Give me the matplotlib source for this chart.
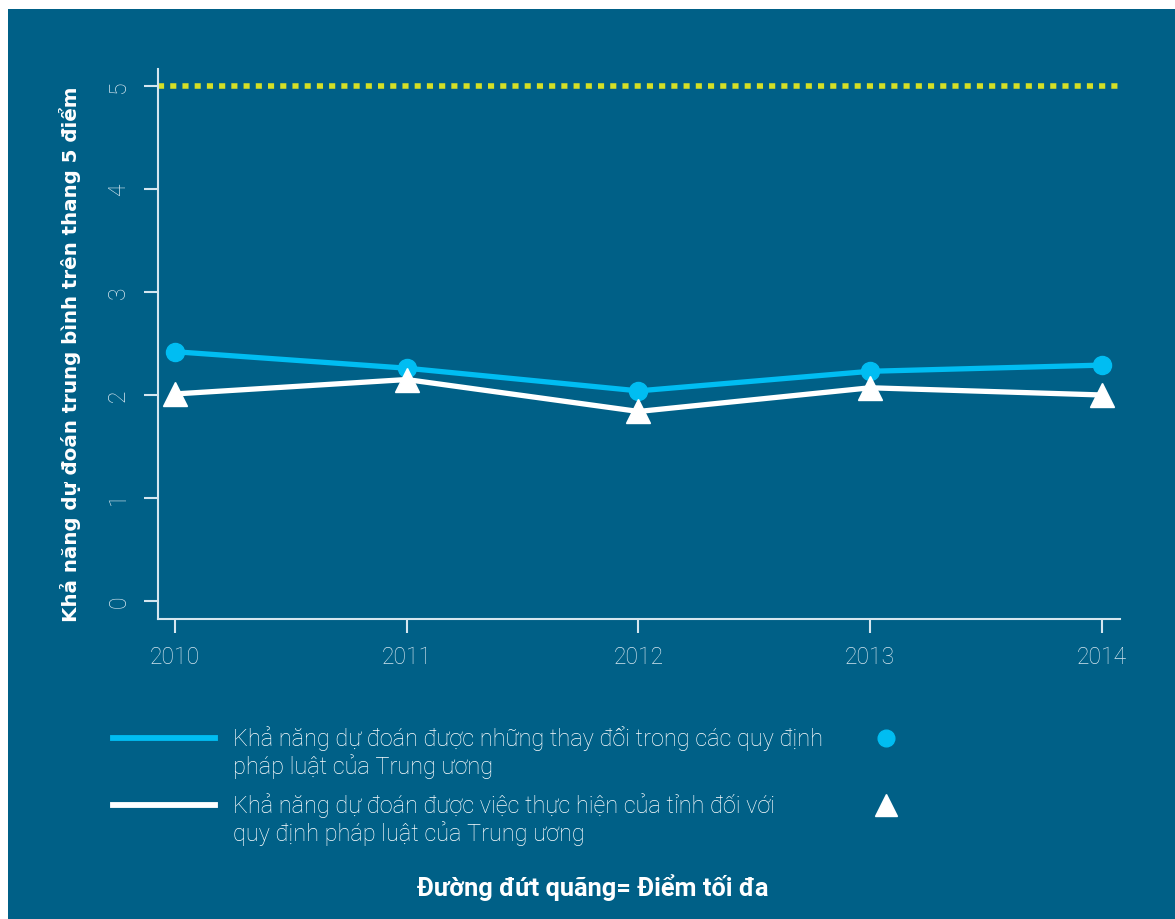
import matplotlib
matplotlib.use('Agg')
import matplotlib.pyplot as plt
from matplotlib.patches import Rectangle
from matplotlib.lines import Line2D

years = [2010, 2011, 2012, 2013, 2014]
central_changes = [2.42, 2.26, 2.04, 2.23, 2.29]
provincial_impl = [2.01, 2.15, 1.84, 2.07, 2.00]
max_score = 5
y_ticks = [0, 1, 2, 3, 4, 5]

label_central = "Khả năng dự đoán được những thay đổi trong các quy định\npháp luật của Trung ương"
label_prov = "Khả năng dự đoán được việc thực hiện của tỉnh đối với\nquy định pháp luật của Trung ương"
ylabel = "Khả năng dự đoán trung bình trên thang 5 điểm"
note = "Đường đứt quãng= Điểm tối đa"

bg = '#006087'
blue = '#00bdf2'
yellow = '#d4df26'
tick_col = '#d5e6ef'
light = ['Roboto', 'DejaVu Sans']

fig = plt.figure(figsize=(11.75, 9.2), dpi=100, facecolor='white')
fig.patches.append(Rectangle((8 / 1175, 0), 1 - 8 / 1175, 1 - 10 / 920,
                             transform=fig.transFigure, facecolor=bg,
                             edgecolor='none', zorder=-5))

ax = fig.add_axes([158 / 1175, 1 - 620 / 920, (1120 - 158) / 1175, (620 - 70) / 920])
ax.set_zorder(2)
ax.patch.set_alpha(0)

ax.plot([2009.927, 2014.078], [max_score, max_score], color=yellow, lw=4,
        linestyle=(0, (1.1, 1.1)), dash_capstyle='butt')
ax.plot(years, central_changes, color=blue, lw=3.8, marker='o', ms=13, zorder=3)
ax.plot(years, provincial_impl, color='white', lw=3.8, marker='^', ms=17, zorder=3)

ax.set_xlim(2009.927, 2014.078)
ax.set_ylim(-0.175, 5.165)
ax.set_xticks(years)
ax.set_yticks(y_ticks)
ax.set_xticklabels([str(y) for y in years], family=light, fontweight='light',
                   fontsize=16.5, color=tick_col)
ax.set_yticklabels([str(t) for t in y_ticks], family=light, fontweight='light',
                   fontsize=16.5, color=tick_col, rotation=90, va='center')
ax.tick_params(axis='both', colors=tick_col, length=10, width=1.5, direction='out')
ax.tick_params(axis='x', pad=9)
ax.tick_params(axis='y', pad=10)
for s in ['top', 'right']:
    ax.spines[s].set_visible(False)
for s in ['left', 'bottom']:
    ax.spines[s].set_color(tick_col)
    ax.spines[s].set_linewidth(1.5)

fig.text(70 / 1175, 1 - 354 / 920, ylabel, rotation=90, color='white',
         fontsize=14.3, fontweight='bold', ha='center', va='center', family='DejaVu Sans')

# legend drawn by hand
def fx(px):
    return px / 1175

def fy(py):
    return 1 - py / 920

fig.lines.append(Line2D([fx(113), fx(215)], [fy(739), fy(739)], color=blue, lw=4.2,
                        transform=fig.transFigure))
fig.lines.append(Line2D([fx(113), fx(215)], [fy(806), fy(806)], color='white', lw=4.2,
                        transform=fig.transFigure))
fig.lines.append(Line2D([fx(886)], [fy(739)], color=blue, marker='o', ms=12, ls='none',
                        transform=fig.transFigure))
fig.lines.append(Line2D([fx(886)], [fy(806)], color='white', marker='^', ms=16, ls='none',
                        transform=fig.transFigure))
fig.text(fx(233), fy(726), label_central, color='white', fontsize=16.9, family=light,
         fontweight='light', va='top', ha='left', linespacing=1.15)
fig.text(fx(233), fy(793), label_prov, color='white', fontsize=16.9, family=light,
         fontweight='light', va='top', ha='left', linespacing=1.15)
fig.text(fx(593), fy(888), note, color='white', fontsize=18.3, family=light,
         fontweight='bold', ha='center', va='center')

fig.savefig('out.png', dpi=100, facecolor='white')
